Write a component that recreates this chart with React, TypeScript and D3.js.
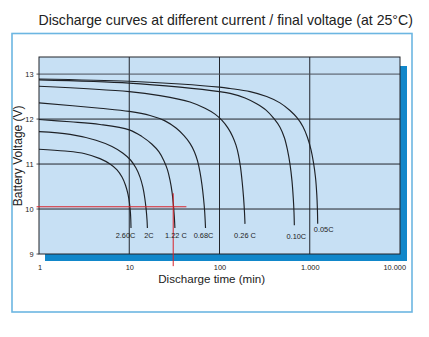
import React from "react";
import * as d3 from "d3";

// Discharge time (min) vs. battery voltage (V), one series per discharge rate
const rateLabels = ["2.60C", "2C", "1.22 C", "0.68C", "0.26 C", "0.10C", "0.05C"];

const curve260: [number, number][] = [
  [1, 11.33], [1.94, 11.29], [3.23, 11.23], [4.74, 11.12], [6.12, 11.0], [7.32, 10.87],
  [8.31, 10.71], [9.09, 10.53], [9.68, 10.33], [10.09, 10.11], [10.33, 9.89], [10.46, 9.58],
];
const curve200: [number, number][] = [
  [1, 11.72], [2.21, 11.66], [4.28, 11.53], [6.44, 11.39], [8.53, 11.24], [10.33, 11.09],
  [11.88, 10.91], [13.16, 10.71], [14.13, 10.49], [14.87, 10.24], [15.41, 9.98],
  [15.73, 9.76], [15.89, 9.58],
];
const curve122: [number, number][] = [
  [1, 11.99], [2.21, 11.94], [4.74, 11.88], [10, 11.76], [13.85, 11.61], [17.87, 11.44],
  [21.36, 11.27], [24.27, 11.07], [26.54, 10.87], [28.29, 10.64], [29.77, 10.38],
  [30.77, 10.11], [31.56, 9.84], [32.05, 9.58],
];
const curve068: [number, number][] = [
  [1, 12.36], [4.74, 12.24], [10, 12.17], [17, 12.08], [24.9, 11.96], [33, 11.8],
  [40.4, 11.63], [47.1, 11.46], [52.8, 11.27], [57.1, 11.07], [60.8, 10.82],
  [64, 10.53], [66.5, 10.24], [68.4, 9.96], [70, 9.58],
];
const curve026: [number, number][] = [
  [1, 12.73], [10, 12.61], [21.9, 12.52], [47.1, 12.38], [69.1, 12.24], [89.2, 12.11],
  [106.6, 11.97], [124.3, 11.8], [139.3, 11.62], [152.3, 11.42], [162.4, 11.2],
  [170.9, 10.93], [178.4, 10.6], [184.5, 10.27], [188.8, 9.96], [191.7, 9.67],
];
const curve010: [number, number][] = [
  [1, 12.87], [10, 12.8], [36.5, 12.71], [100, 12.61], [131, 12.57], [192, 12.47],
  [258, 12.34], [328, 12.2], [402, 12.01], [468, 11.82], [525, 11.58], [567, 11.31],
  [604, 11.0], [636, 10.62], [657, 10.24], [669, 9.93], [675, 9.64],
];
const curve005: [number, number][] = [
  [1, 12.89], [10, 12.84], [36.5, 12.78], [100, 12.71], [131, 12.68], [218, 12.61],
  [333, 12.5], [468, 12.36], [604, 12.19], [722, 12.03], [842, 11.83], [944, 11.59],
  [1032, 11.32], [1100, 11.03], [1158, 10.7], [1197, 10.32], [1216, 9.99], [1225, 9.67],
];
const seriesData = [curve260, curve200, curve122, curve068, curve026, curve010, curve005];

const xTicks = [1, 10, 100, 1000, 10000];
const xTickLabels = ["1", "10", "100", "1.000", "10.000"];
const yTicks = [9, 10, 11, 12, 13];

// Final-voltage marker (red cross-hair)
const markerVoltage = 10.05;
const markerTime = 30.7;
const markerTimeSpan = [0.94, 43];
const markerVoltageSpan = [8.73, 10.35];

const W = 429;
const H = 337;
const plot = { left: 39, right: 400, top: 57, bottom: 254 };
const font = "'Liberation Sans', Arial, Helvetica, sans-serif";

// label nudges relative to each curve's end point
const labelOffsets: [number, number][] = [
  [-5.5, 10.5], [1.5, 10.5], [1, 10.5], [-2, 10.5], [0, 14.5], [2, 14.2], [6, 7.9],
];

export default function App() {
  const x = d3.scaleLog().domain([1, 10000]).range([plot.left, plot.right]);
  const y = d3.scaleLinear().domain([9, 13.38]).range([plot.bottom, plot.top]);
  const line = d3
    .line<[number, number]>()
    .x((d) => x(d[0]))
    .y((d) => y(d[1]))
    .curve(d3.curveCatmullRom.alpha(0.5));

  const pw = plot.right - plot.left;
  const ph = plot.bottom - plot.top;
  const gridColor = "#22252b";

  return (
    <svg
      width={W}
      height={H}
      viewBox={`0 0 ${W} ${H}`}
      style={{ position: "absolute", left: 0, top: 0, background: "#fff" }}
    >
      <text x={38.5} y={25} fontFamily={font} fontSize={14.1} fill="#222">
        Discharge curves at different current / final voltage (at 25°C)
      </text>

      <rect x={12} y={33.5} width={400} height={278.5} fill="none" stroke="#6cb6e2" strokeWidth={1.6} />

      {/* drop shadow behind the plot */}
      <rect x={plot.left + 6} y={plot.top + 9} width={pw + 1} height={ph - 2} fill="#1187ca" />
      <rect x={plot.left} y={plot.top} width={pw} height={ph} fill="#c7e0f4" />

      {/* gridlines */}
      {xTicks.slice(1, -1).map((t) => (
        <line key={`gx${t}`} x1={x(t)} x2={x(t)} y1={plot.top} y2={plot.bottom} stroke={gridColor} strokeWidth={1} />
      ))}
      {yTicks.slice(1).map((v) => (
        <line
          key={`gy${v}`}
          x1={plot.left}
          x2={plot.right}
          y1={y(v)}
          y2={y(v)}
          stroke={v === 13 ? "#4a4f58" : gridColor}
          strokeWidth={1}
        />
      ))}
      <rect x={plot.left} y={plot.top} width={pw} height={ph} fill="none" stroke={gridColor} strokeWidth={1} />
      {yTicks.map((v) => (
        <line key={`ty${v}`} x1={plot.left - 2.5} x2={plot.left} y1={y(v)} y2={y(v)} stroke={gridColor} strokeWidth={0.8} />
      ))}

      {/* discharge curves */}
      {seriesData.map((d, i) => (
        <path key={`c${i}`} d={line(d) ?? ""} fill="none" stroke="#1e2126" strokeWidth={1.15} />
      ))}

      {/* final voltage marker */}
      <line
        x1={x(markerTimeSpan[0])}
        x2={x(markerTimeSpan[1])}
        y1={y(markerVoltage)}
        y2={y(markerVoltage)}
        stroke="#d8232a"
        strokeWidth={1}
      />
      <line
        x1={x(markerTime)}
        x2={x(markerTime)}
        y1={y(markerVoltageSpan[1])}
        y2={y(markerVoltageSpan[0])}
        stroke="#d8232a"
        strokeWidth={1}
      />

      {/* rate labels */}
      {seriesData.map((d, i) => {
        const last = d[d.length - 1];
        return (
          <text
            key={`l${i}`}
            x={x(last[0]) + labelOffsets[i][0]}
            y={y(last[1]) + labelOffsets[i][1]}
            textAnchor="middle"
            fontFamily={font}
            fontSize={7.4}
            fill="#222"
          >
            {rateLabels[i]}
          </text>
        );
      })}

      {/* axis tick labels */}
      {yTicks.map((v) => (
        <text key={`yl${v}`} x={33.5} y={y(v) + 2.6} textAnchor="end" fontFamily={font} fontSize={7.4} fill="#222">
          {v}
        </text>
      ))}
      {xTicks.map((t, i) => (
        <text
          key={`xl${t}`}
          x={i === xTicks.length - 1 ? x(t) + 6 : x(t) + (i === 0 ? 1 : 0.5)}
          y={270}
          textAnchor={i === xTicks.length - 1 ? "end" : "middle"}
          fontFamily={font}
          fontSize={7.4}
          fill="#222"
        >
          {xTickLabels[i]}
        </text>
      ))}

      <text x={211.7} y={282.5} textAnchor="middle" fontFamily={font} fontSize={11.6} fill="#222">
        Discharge time (min)
      </text>
      <text
        transform={`translate(22,155.8) rotate(-90)`}
        textAnchor="middle"
        fontFamily={font}
        fontSize={12}
        fill="#222"
      >
        Battery Voltage (V)
      </text>
    </svg>
  );
}
